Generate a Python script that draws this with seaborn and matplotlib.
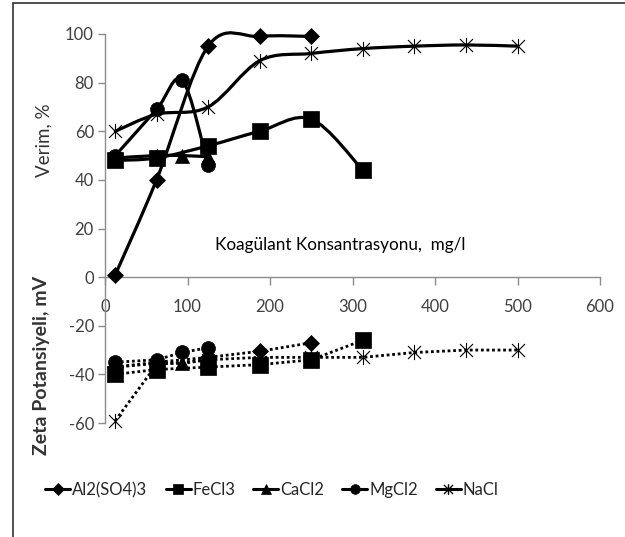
import numpy as np
import pandas as pd
import matplotlib
matplotlib.use("Agg")
import matplotlib.pyplot as plt
from matplotlib.path import Path
from matplotlib.patches import PathPatch
from matplotlib.lines import Line2D
import seaborn as sns

# ---------------- data ----------------
series_names = ["Al2(SO4)3", "FeCl3", "CaCl2", "MgCl2", "NaCl"]

al_x = [12.5, 62.5, 125, 187.5, 250]
al_eff = [1, 40, 95, 99, 99]
al_zeta = [-37, -35, -33, -30.5, -27]

fe_x = [12.5, 62.5, 125, 187.5, 250, 312.5]
fe_eff = [48, 49, 54, 60, 65, 44]
fe_zeta = [-40, -38, -37, -36, -34, -26]

ca_x = [12.5, 62.5, 93.75, 125]
ca_eff = [49, 50, 50, 49.5]
ca_zeta = [-37, -35.5, -35.5, -34]

mg_x = [12.5, 62.5, 93.75, 125]
mg_eff = [50, 69, 81, 46]
mg_zeta = [-35, -34, -31, -29]

na_x = [12.5, 62.5, 125, 187.5, 250, 312.5, 375, 437.5, 500]
na_eff = [60, 67, 70, 89, 92, 94, 95, 95.5, 95]
na_zeta = [-59, -36, -34, -33, -33, -33, -31, -30, -30]

x_ticks = [0, 100, 200, 300, 400, 500, 600]
y_ticks = [-60, -40, -20, 0, 20, 40, 60, 80, 100]

xs = [al_x, fe_x, ca_x, mg_x, na_x]
effs = [al_eff, fe_eff, ca_eff, mg_eff, na_eff]
zetas = [al_zeta, fe_zeta, ca_zeta, mg_zeta, na_zeta]

rows = []
for name, x, e, z in zip(series_names, xs, effs, zetas):
    for xi, ei, zi in zip(x, e, z):
        rows.append({"Coagulant": name, "conc": xi, "eff": ei, "zeta": zi})
df = pd.DataFrame(rows)

# ---------------- style ----------------
sns.set_style("white")
plt.rcParams["font.family"] = ["Lato", "DejaVu Sans"]

star = Path([(0, -1), (0, 1), (-0.85, -0.85), (0.85, 0.85), (-0.85, 0.85), (0.85, -0.85)],
            [Path.MOVETO, Path.LINETO, Path.MOVETO, Path.LINETO, Path.MOVETO, Path.LINETO])
markers = {"Al2(SO4)3": "D", "FeCl3": "s", "CaCl2": "^", "MgCl2": "o", "NaCl": star}
msizes = {"Al2(SO4)3": 8.5, "FeCl3": 11, "CaCl2": 9.5, "MgCl2": 10, "NaCl": 11}

fig = plt.figure(figsize=(6.25, 5.37), dpi=100)
ax = fig.add_axes([105 / 625, 1 - 423 / 537, 495 / 625, 389 / 537])
ax.set_xlim(0, 600)
ax.set_ylim(-60, 100)

# zeta potential: dotted lines
sns.lineplot(data=df, x="conc", y="zeta", hue="Coagulant", style="Coagulant",
             palette={n: "black" for n in series_names},
             dashes={n: (1, 1.0) for n in series_names},
             lw=2.0, legend=False, ax=ax, sort=False, zorder=2)
for name in series_names:
    sub = df[df.Coagulant == name]
    ax.plot(sub.conc, sub.zeta, linestyle="none", marker=markers[name], ms=msizes[name],
            color="black", mec="black", mew=0.8 if name == "NaCl" else 0.5, zorder=4,
            clip_on=False)

# efficiency: smoothed curves (Bezier through points, computed in display space)
fig.canvas.draw()
T = ax.transData
Ti = T.inverted()
for name in series_names:
    sub = df[df.Coagulant == name]
    P = T.transform(np.column_stack([sub.conc.values, sub.eff.values]))
    n = len(P)
    verts = [P[0]]
    codes = [Path.MOVETO]
    for i in range(n - 1):
        p0 = P[i - 1] if i > 0 else P[i]
        p1 = P[i]
        p2 = P[i + 1]
        p3 = P[i + 2] if i + 2 < n else P[i + 1]
        c1 = p1 + (p2 - p0) / 6.0
        c2 = p2 - (p3 - p1) / 6.0
        verts += [c1, c2, p2]
        codes += [Path.CURVE4] * 3
    verts = Ti.transform(np.array(verts))
    ax.add_patch(PathPatch(Path(verts, codes), fill=False, edgecolor="black",
                           lw=2.3, zorder=3, clip_on=False, capstyle="round",
                           joinstyle="round"))

for name in series_names:
    sub = df[df.Coagulant == name]
    ax.plot(sub.conc, sub.eff, linestyle="none", marker=markers[name], ms=msizes[name],
            color="black", mec="black", mew=0.8 if name == "NaCl" else 0.5, zorder=5,
            clip_on=False)

# axes styling
for s in ["top", "right"]:
    ax.spines[s].set_visible(False)
ax.spines["bottom"].set_position(("data", 0))
for s in ["left", "bottom"]:
    ax.spines[s].set_color("#8c8c8c")
    ax.spines[s].set_linewidth(1.0)
ax.set_xticks(x_ticks)
ax.set_yticks(y_ticks)
ax.set_yticklabels([str(v) for v in y_ticks])
ax.tick_params(axis="x", direction="out", length=6, width=1, color="#8c8c8c",
               labelsize=12, labelcolor="#404040", pad=10, bottom=True)
ax.tick_params(axis="y", direction="out", length=5, width=1, color="#8c8c8c",
               labelsize=12, labelcolor="#404040", pad=3, left=True)
ax.set_xlabel("")
ax.set_ylabel("")

fig.text(340 / 625, 1 - 245 / 537, "Koagülant Konsantrasyonu,  mg/l", ha="center",
         va="center", fontsize=12.3, color="black")

fig.text(44 / 625, 1 - 140 / 537, "Verim, %", rotation=90, ha="center", va="center",
         fontsize=13.5, color="#333333")
fig.text(42 / 625, 1 - 365 / 537, "Zeta Potansiyeli, mV", rotation=90, ha="center",
         va="center", fontsize=14, fontweight="bold", color="#333333")

# legend
handles = [Line2D([0], [0], color="black", lw=2.2, marker=markers[n],
                  ms=msizes[n] * 0.7, mew=1.0 if n == "NaCl" else 0.5)
           for n in series_names]
fig.legend(handles, series_names, loc="center", bbox_to_anchor=(272 / 625, 1 - 490 / 537),
           ncol=5, frameon=False, fontsize=12, handlelength=1.5, handletextpad=0.1,
           columnspacing=1.1)

# outer frame (left and top edges)
fig.add_artist(Line2D([13 / 625, 13 / 625], [0, 1 - 3 / 537], transform=fig.transFigure,
                      color="#333333", lw=1.2))
fig.add_artist(Line2D([13 / 625, 1], [1 - 3 / 537, 1 - 3 / 537], transform=fig.transFigure,
                      color="#333333", lw=1.2))

fig.savefig("out.png", dpi=100)
